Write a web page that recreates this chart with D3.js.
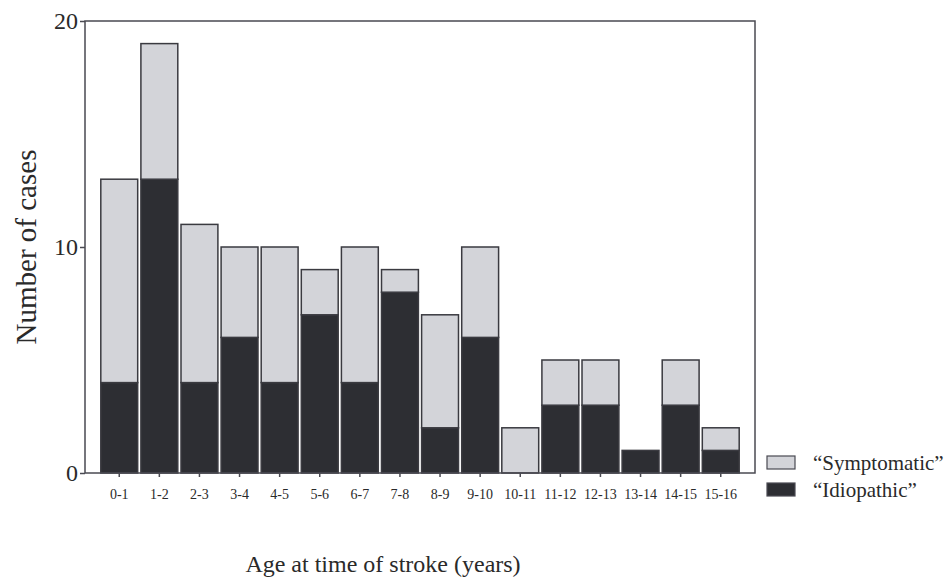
<!DOCTYPE html>
<html>
<head>
<meta charset="utf-8">
<script src="https://cdn.jsdelivr.net/npm/d3@7"></script>
<style>
  body { margin: 0; background: #fff; }
  text { font-family: "Liberation Serif", "Times New Roman", serif; fill: #2a2a2a; }
</style>
</head>
<body>
<div id="chart"></div>
<script>
var width = 949;
var height = 578;

// data
var ages = ['0-1', '1-2', '2-3', '3-4', '4-5', '5-6', '6-7', '7-8', '8-9', '9-10',
            '10-11', '11-12', '12-13', '13-14', '14-15', '15-16'];
var idiopathic = [4, 13, 4, 6, 4, 7, 4, 8, 2, 6, 0, 3, 3, 1, 3, 1];
var symptomatic = [9, 6, 7, 4, 6, 2, 6, 1, 5, 4, 2, 2, 2, 0, 2, 1];
var yTicks = [0, 10, 20];
var seriesNames = ['“Symptomatic”', '“Idiopathic”'];

var lightFill = '#d3d4d9';
var darkFill = '#2d2e33';

var plotLeft = 85, plotRight = 755, plotTop = 21, plotBottom = 473;

var svg = d3.select('#chart')
    .append('svg')
    .attr('width', width)
    .attr('height', height);

var x = d3.scaleBand()
    .domain(ages)
    .range([plotLeft + 15, plotRight - 15])
    .paddingInner(0.08)
    .paddingOuter(0.02);

var y = d3.scaleLinear()
    .domain([0, 20])
    .range([plotBottom, plotTop]);

var rows = ages.map(function(a, i) {
  return { age: a, idiopathic: idiopathic[i], symptomatic: symptomatic[i] };
});
var stack = d3.stack().keys(['idiopathic', 'symptomatic']);
var layers = stack(rows);

var g = svg.append('g');
g.selectAll('g.layer')
    .data(layers)
    .enter()
    .append('g')
    .attr('class', 'layer')
    .attr('fill', function(d) { return d.key == 'idiopathic' ? darkFill : lightFill; })
    .selectAll('rect')
    .data(function(d) { return d.filter(function(s) { return s[1] > s[0]; }); })
    .enter()
    .append('rect')
    .attr('x', function(d) { return x(d.data.age); })
    .attr('y', function(d) { return y(d[1]); })
    .attr('width', x.bandwidth())
    .attr('height', function(d) { return y(d[0]) - y(d[1]); })
    .attr('stroke', '#3a3a40')
    .attr('stroke-width', 1.5);

// frame
svg.append('rect')
    .attr('x', plotLeft)
    .attr('y', plotTop)
    .attr('width', plotRight - plotLeft)
    .attr('height', plotBottom - plotTop)
    .attr('fill', 'none')
    .attr('stroke', '#4a4a52')
    .attr('stroke-width', 1.5);

// y axis
var yAxis = svg.append('g')
    .attr('transform', 'translate(' + plotLeft + ',0)')
    .call(d3.axisLeft(y).tickValues(yTicks).tickSize(5).tickPadding(2));
yAxis.select('.domain').remove();
yAxis.selectAll('line').attr('stroke', '#4a4a52').attr('stroke-width', 1.5);
yAxis.selectAll('text').style('font-size', '24px').attr('fill', '#2a2a2a')
    .style('font-family', '"Liberation Serif", serif');

// x axis
var xAxis = svg.append('g')
    .attr('transform', 'translate(0,' + plotBottom + ')')
    .call(d3.axisBottom(x).tickSize(4).tickPadding(12));
xAxis.select('.domain').remove();
xAxis.selectAll('line').attr('stroke', '#4a4a52').attr('stroke-width', 1.5);
xAxis.selectAll('text').style('font-size', '14px').attr('fill', '#2a2a2a')
    .style('font-family', '"Liberation Serif", serif');

// axis titles
svg.append('text')
    .attr('transform', 'translate(36,' + ((plotTop + plotBottom) / 2) + ') rotate(-90)')
    .attr('text-anchor', 'middle')
    .style('font-size', '29px')
    .text('Number of cases');

svg.append('text')
    .attr('x', 383)
    .attr('y', 572)
    .attr('text-anchor', 'middle')
    .style('font-size', '24px')
    .text('Age at time of stroke (years)');

// legend
var legend = svg.selectAll('.legend')
    .data(seriesNames)
    .enter()
    .append('g')
    .attr('class', 'legend')
    .attr('transform', function(d, i) { return 'translate(767,' + (456 + i * 27) + ')'; });

legend.append('rect')
    .attr('width', 28)
    .attr('height', 13)
    .attr('fill', function(d, i) { return i == 0 ? lightFill : darkFill; })
    .attr('stroke', '#4a4a52')
    .attr('stroke-width', 1.2);

legend.append('text')
    .attr('x', 46)
    .attr('y', 14)
    .style('font-size', '21px')
    .text(function(d) { return d; });
</script>
</body>
</html>
